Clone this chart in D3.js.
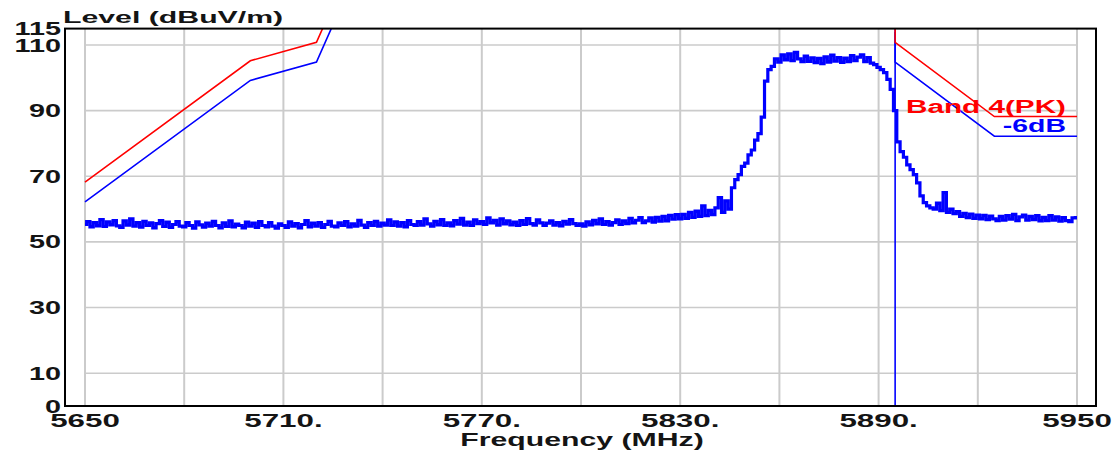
<!DOCTYPE html>
<html><head><meta charset="utf-8">
<script src="https://cdn.jsdelivr.net/npm/d3@7"></script>
<style>
html,body{margin:0;padding:0;background:#fff;}
svg{display:block;font-family:"Liberation Sans",Arial,sans-serif;font-weight:bold;}
</style></head>
<body><svg id="c" width="1118" height="453"></svg>
<script>
// ---- data ----
const freqStart = 5650, freqStep = 1;
const level = [
55.3,56.2,54.6,55.9,54.9,56.8,54.7,56.1,55.2,56.5,
54.9,54.4,56.4,55.1,57.0,54.8,55.9,54.5,56.3,55.0,
55.8,54.3,55.6,56.5,54.7,56.0,54.4,55.3,56.2,54.8,
54.6,55.9,55.0,54.2,56.1,55.2,54.5,55.7,54.8,56.3,
55.0,54.3,55.8,54.7,56.4,54.6,55.4,55.0,54.3,56.0,
54.8,55.7,54.4,56.2,55.0,54.6,55.9,54.8,54.2,55.5,
55.0,54.4,56.1,54.8,55.6,54.3,55.3,56.5,54.6,55.7,
54.8,55.9,54.4,55.3,56.3,54.8,54.6,55.8,55.0,56.2,
54.6,55.5,54.8,56.6,55.1,54.4,55.9,55.0,56.3,54.8,
55.7,55.1,56.7,55.0,56.1,54.8,55.9,54.6,56.5,55.3,
55.0,56.2,55.1,57.0,55.5,54.8,56.3,55.2,56.8,55.0,
55.8,54.9,56.5,55.4,57.2,55.1,56.0,55.0,56.7,55.6,
56.2,55.3,57.3,55.8,56.6,55.1,57.0,55.5,56.4,55.2,
56.0,55.0,56.5,55.3,57.1,55.6,55.1,56.7,55.8,55.0,
55.7,56.4,55.1,55.9,54.9,56.3,55.4,56.8,55.6,55.0,
55.5,54.8,56.1,55.2,56.6,55.5,57.0,55.3,56.2,55.1,
55.9,56.7,55.3,56.4,55.6,57.2,55.8,56.6,57.4,55.9,
56.4,57.3,56.0,57.5,56.3,57.8,56.4,58.1,56.9,58.3,
57.0,58.4,57.2,59.0,57.5,59.4,57.8,61.0,58.0,59.6,
58.3,60.4,63.5,59.0,62.5,60.0,66.5,69.0,70.5,73.0,
74.0,76.5,78.0,81.0,83.0,88.0,99.0,102.5,103.5,105.8,
104.8,107.0,105.5,107.3,105.2,107.8,105.8,104.9,106.6,105.0,
106.1,104.6,105.9,104.3,106.4,104.8,106.9,105.1,106.2,104.7,
106.0,104.9,106.8,105.2,106.3,107.0,104.9,106.2,104.5,104.0,
103.2,102.5,101.6,99.5,96.5,90.0,80.5,77.5,75.8,73.5,
72.0,70.5,68.0,64.0,62.0,61.0,60.4,60.0,61.8,59.5,
65.0,59.0,60.0,58.6,59.2,57.8,58.7,57.4,58.5,57.2,
58.2,57.0,58.1,56.8,57.9,57.0,56.5,57.8,56.6,58.0,
56.9,58.4,56.5,57.6,58.2,56.6,57.8,56.8,58.0,56.4,
57.5,56.5,58.0,56.6,57.6,56.3,57.4,56.5,56.2,57.3,
57.4
];
const limitLowF = [5650, 5700, 5720, 5725];
const limitLowV = [68.2, 105.2, 110.8, 122.2];
const limitHighF = [5895, 5895, 5925, 5950];
const limitHighV = [120, 110.8, 88.2, 88.2];
const marginDb = 6;
const markerF = 5895;
const xTickValues = [5650, 5710, 5770, 5830, 5890, 5950];
const xTickLabels = ["5650", "5710.", "5770.", "5830.", "5890.", "5950"];
const xGridValues = [5650,5680,5710,5740,5770,5800,5830,5860,5890,5920,5950];
const yTickValues = [0, 10, 30, 50, 70, 90, 110, 115];
const yGridValues = [10, 30, 50, 70, 90, 110];
const yDomain = [0, 115];

// ---- scales ----
const x = d3.scaleLinear().domain([5650, 5950]).range([85, 1077]);
const y = d3.scaleLinear().domain(yDomain).range([406, 28.6]);
const svg = d3.select("#c");
const pLeft = x(5650) - 20, pRight = x(5950) + 19, pTop = y(115), pBottom = y(0);

svg.append("defs").append("clipPath").attr("id","plot")
  .append("rect").attr("x", pLeft).attr("y", pTop).attr("width", pRight-pLeft).attr("height", pBottom-pTop);

// grid
svg.append("g").selectAll("line").data(xGridValues).join("line")
  .attr("x1", d=>x(d)).attr("x2", d=>x(d)).attr("y1", pTop).attr("y2", pBottom)
  .attr("stroke", "#cbcbcb").attr("stroke-width", 2);
svg.append("g").selectAll("line").data(yGridValues).join("line")
  .attr("x1", x(5650)).attr("x2", x(5950)).attr("y1", d=>y(d)).attr("y2", d=>y(d))
  .attr("stroke", "#cbcbcb").attr("stroke-width", 1.6);

const plot = svg.append("g").attr("clip-path", "url(#plot)");
const line = d3.line().x(d=>x(d[0])).y(d=>y(d[1]));
const stepLine = d3.line().x(d=>x(d[0])).y(d=>y(d[1])).curve(d3.curveStep);

// marker vertical line
plot.append("line").attr("x1", x(markerF)).attr("x2", x(markerF))
  .attr("y1", y(0)).attr("y2", y(115)).attr("stroke", "#0000ff").attr("stroke-width", 1.6);

// trace
const trace = level.map((v,i)=>[freqStart + i*freqStep, v]);
plot.append("path").datum(trace).attr("d", stepLine)
  .attr("fill","none").attr("stroke","#0000ff").attr("stroke-width", 3.2).attr("stroke-linejoin","miter");

// limit lines
function pairs(fs, vs, off){ return fs.map((f,i)=>[f, vs[i]-off]); }
[[marginDb,"#0000ff"],[0,"#ff0000"]].forEach(([off,col])=>{
  plot.append("path").datum(pairs(limitLowF, limitLowV, off)).attr("d", line)
    .attr("fill","none").attr("stroke", col).attr("stroke-width", 1.6);
  plot.append("path").datum(pairs(limitHighF, limitHighV, off)).attr("d", line)
    .attr("fill","none").attr("stroke", col).attr("stroke-width", 1.6);
});

// frame
svg.append("rect").attr("x", pLeft).attr("y", pTop).attr("width", pRight-pLeft).attr("height", pBottom-pTop)
  .attr("fill","none").attr("stroke","#000").attr("stroke-width", 2);

// stretched text helper
function stext(tx, ty, str, size, sx, anchor, color){
  svg.append("g").attr("transform", `translate(${tx},${ty}) scale(${sx},1)`)
    .append("text").attr("x",0).attr("y",0).attr("text-anchor", anchor)
    .attr("font-size", size).attr("fill", color).text(str);
}
// y tick labels
yTickValues.forEach(v=>stext(pLeft - 4, y(v) + 6.5, String(v), 18, 1.6, "end", "#141414"));
// x tick labels
xTickValues.forEach((v,i)=>stext(x(v), 427, xTickLabels[i], 18, 1.74, "middle", "#141414"));
// axis titles
stext(63, 23, "Level (dBuV/m)", 17, 1.78, "start", "#141414");
stext(582, 446, "Frequency (MHz)", 18, 1.68, "middle", "#141414");
// limit labels
stext(1066, 113, "Band 4(PK)", 18, 1.65, "end", "#ff0000");
stext(1066, 132, "-6dB", 18, 1.58, "end", "#0000ff");
</script></body></html>
